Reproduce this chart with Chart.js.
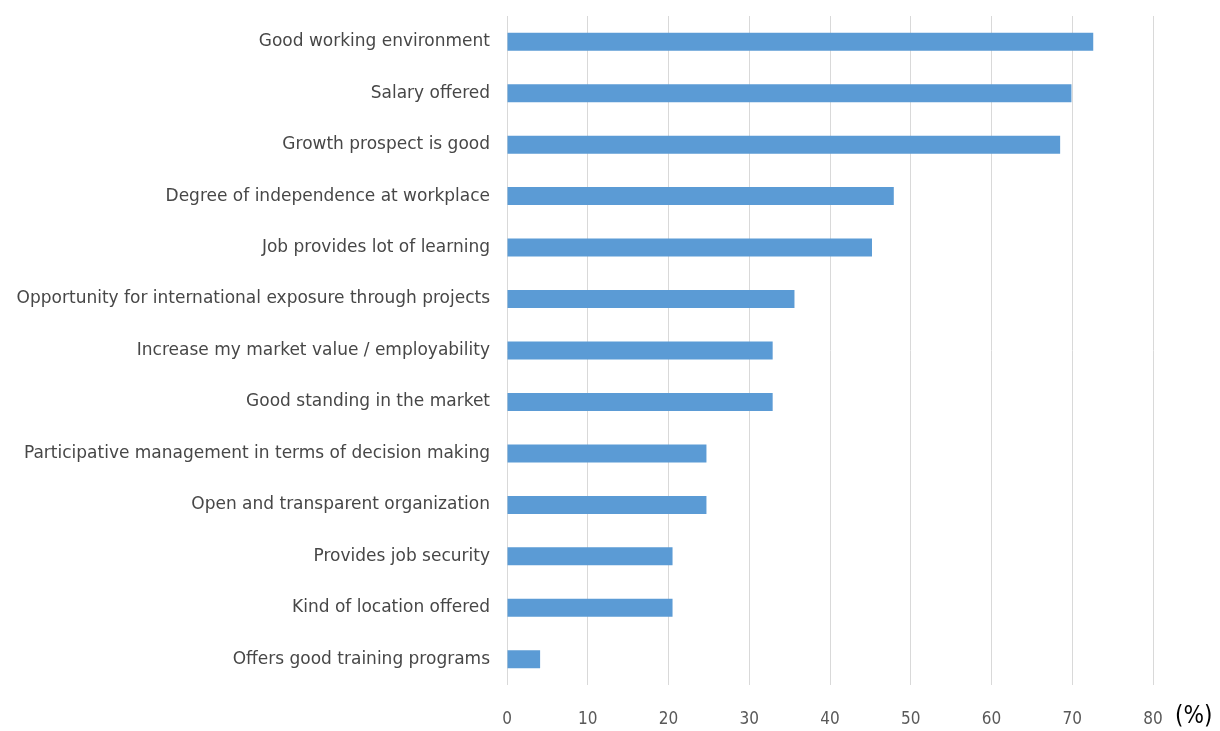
<!DOCTYPE html>
<html>
<head>
<meta charset="utf-8">
<title>Job attributes</title>
<script src="https://cdn.jsdelivr.net/npm/chart.js@4"></script>
<style>
  html, body { margin: 0; padding: 0; background: #fff; }
  #wrap { width: 1220px; height: 731px; position: relative; }
</style>
</head>
<body>
<div id="wrap"><canvas id="attrChart"></canvas></div>
<script>
// categories, top to bottom
const categories = [
    'Good working environment',
    'Salary offered',
    'Growth prospect is good',
    'Degree of independence at workplace',
    'Job provides lot of learning',
    'Opportunity for international exposure through projects',
    'Increase my market value / employability',
    'Good standing in the market',
    'Participative management in terms of decision making',
    'Open and transparent organization',
    'Provides job security',
    'Kind of location offered',
    'Offers good training programs'
];

// share of respondents (%)
const percentValues = [72.6, 69.9, 68.5, 47.9, 45.2, 35.6, 32.9, 32.9, 24.7, 24.7, 20.5, 20.5, 4.1];

// x axis ticks
const xTicks = [0, 10, 20, 30, 40, 50, 60, 70, 80];
const unitLabel = '(%)';

const labelFont = '"DejaVu Sans", sans-serif';
const tickFont = '"DejaVu Sans Condensed", "DejaVu Sans", sans-serif';

// puts the unit next to the last tick label
const unitPlugin = {
    id: 'unitLabel',
    afterDraw(chart) {
        const x = chart.scales.x;
        const ctx = chart.ctx;
        const px = x.getPixelForValue(xTicks[xTicks.length - 1]);
        ctx.save();
        ctx.font = '24px ' + tickFont;
        ctx.fillStyle = '#000';
        ctx.textBaseline = 'middle';
        ctx.textAlign = 'left';
        ctx.fillText(unitLabel, px + 22, 717);
        ctx.restore();
    }
};

const ctx = document.getElementById('attrChart');
new Chart(ctx, {
    type: 'bar',
    data: {
        labels: categories,
        datasets: [{
            data: percentValues,
            backgroundColor: '#5b9bd5',
            borderWidth: 0,
            categoryPercentage: 1,
            barPercentage: 0.35
        }]
    },
    options: {
        indexAxis: 'y',
        responsive: true,
        maintainAspectRatio: false,
        animation: false,
        layout: { padding: { top: 16, right: 67, bottom: 0, left: 0 } },
        plugins: {
            legend: { display: false },
            tooltip: { enabled: false }
        },
        scales: {
            x: {
                min: 0,
                max: 80,
                afterBuildTicks(scale) {
                    scale.ticks = xTicks.map(v => ({ value: v }));
                },
                afterFit(scale) { scale.height = 46; },
                grid: { color: '#d9d9d9', lineWidth: 1, drawTicks: false },
                border: { display: false },
                ticks: {
                    padding: 24,
                    color: '#595959',
                    font: { family: tickFont, size: 17 }
                }
            },
            y: {
                afterFit(scale) {
                    scale.width = 507;
                    scale.paddingTop = 0;
                    scale.paddingBottom = 0;
                },
                grid: { display: false, drawTicks: false },
                border: { display: false },
                ticks: {
                    padding: 17,
                    color: '#474747',
                    font: { family: labelFont, size: 17 }
                }
            }
        }
    },
    plugins: [unitPlugin]
});
</script>
</body>
</html>
